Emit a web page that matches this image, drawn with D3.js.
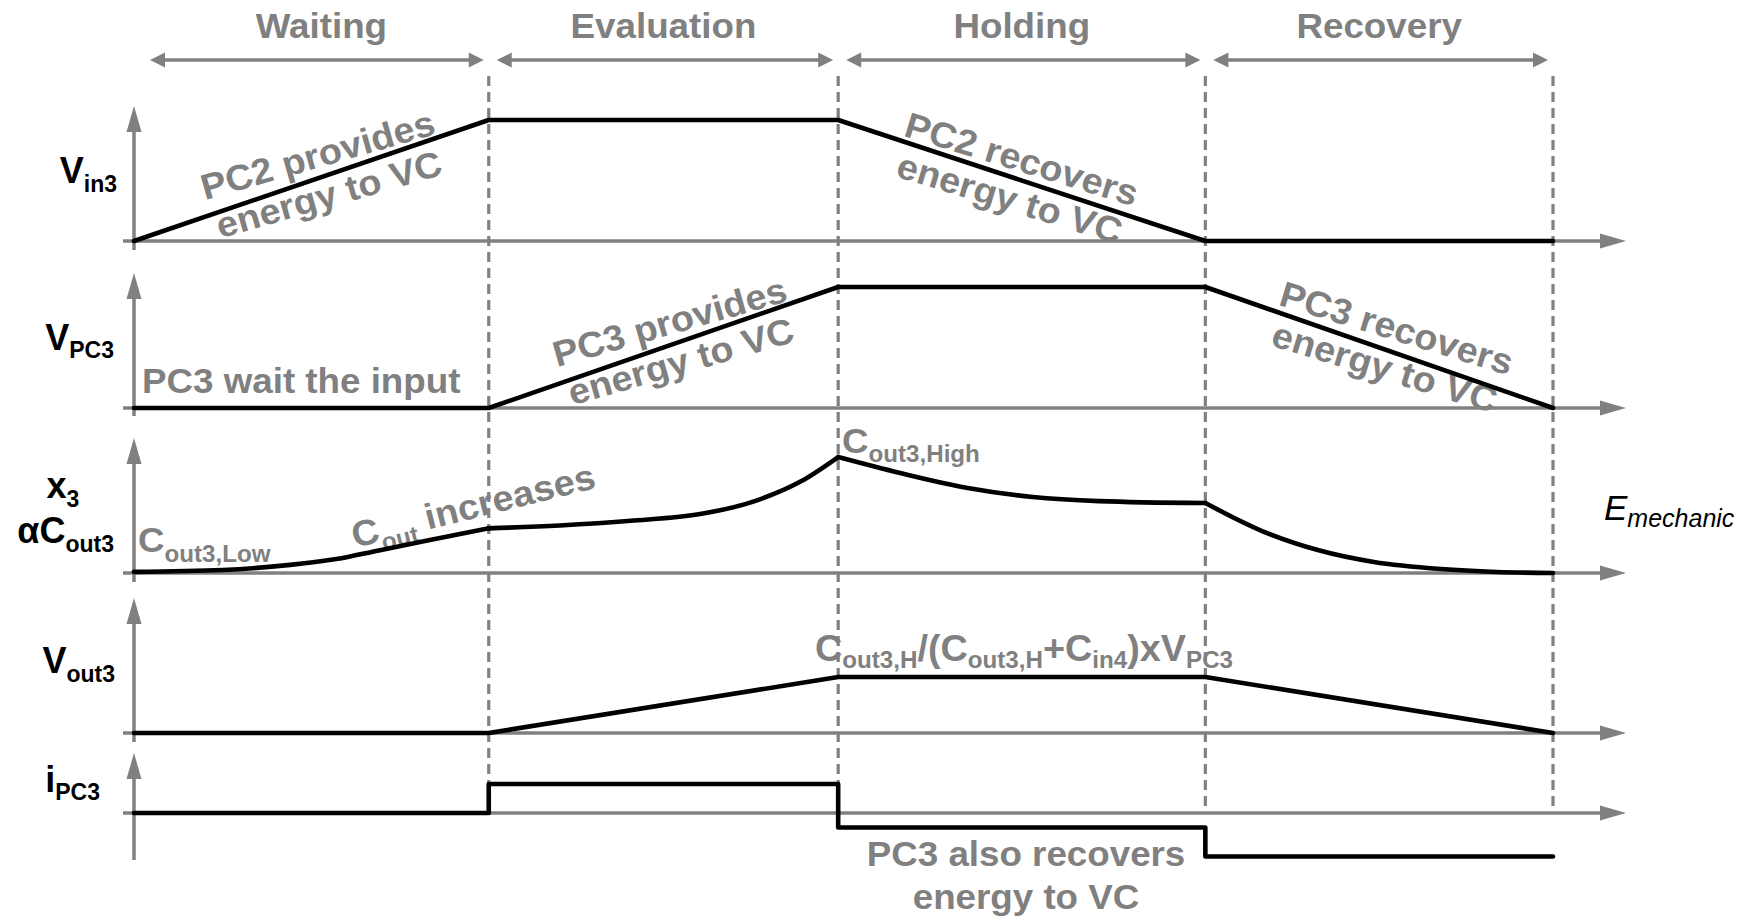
<!DOCTYPE html>
<html>
<head>
<meta charset="utf-8">
<script src="https://cdn.jsdelivr.net/npm/d3@7"></script>
<style>
  html, body { margin: 0; padding: 0; background: #ffffff; }
  svg { display: block; }
  text { font-family: "Liberation Sans", Arial, Helvetica, sans-serif; white-space: pre; }
</style>
</head>
<body>
<svg id="chart" width="1752" height="917"></svg>
<script>
// ---- operating phases (time in normalised units) ----
const phaseNames = ["Waiting", "Evaluation", "Holding", "Recovery"];
const phaseEdges = [0, 1.0, 1.985, 3.02, 4.0];

// ---- waveforms: [time, normalised value] ----
const vin3 = [[0, 0], [1.0, 1], [1.985, 1], [3.02, 0], [4.0, 0]];
const vpc3 = [[0, 0], [1.0, 0], [1.985, 1], [3.02, 1], [4.0, 0]];
const vout3 = [[0, 0], [1.0, 0], [1.985, 1], [3.02, 1], [4.0, 0]];
// i_PC3 holds each level until the next phase edge
const ipc3 = [[0, 0], [1.0, 1], [1.985, -0.5], [3.02, -1.5], [4.0, -1.5]];
// x3 / alpha*Cout3, one smooth piece per phase
const cout3Waiting = [[0, 0.01], [0.25, 0.026], [0.44, 0.07], [0.57, 0.12], [0.69, 0.195], [0.82, 0.275], [1.0, 0.385]];
const cout3Evaluation = [[1.0, 0.385], [1.2, 0.41], [1.4, 0.45], [1.6, 0.51], [1.75, 0.62], [1.88, 0.79], [1.985, 1.0]];
const cout3Holding = [[1.985, 1.0], [2.16, 0.862], [2.35, 0.733], [2.534, 0.655], [2.72, 0.62], [3.02, 0.603]];
const cout3Recovery = [[3.02, 0.603], [3.18, 0.362], [3.337, 0.198], [3.495, 0.095], [3.684, 0.034], [3.842, 0.009], [4.0, 0.0]];

const GRAY = "#808080";
const BLACK = "#000000";
const WIDEN = 1.05;   // annotation lettering is set slightly wide

const svg = d3.select("#chart");
const x = d3.scaleLinear().domain([0, 4]).range([134, 1553]);

// panel layout: baseline, pixels per unit, axis extent
const panels = [
  { name: "vin3",  base: 241, unit: 121, top: 106, bottom: 250, series: [vin3],  curve: d3.curveLinear },
  { name: "vpc3",  base: 408, unit: 121, top: 273, bottom: 416, series: [vpc3],  curve: d3.curveLinear },
  { name: "cout3", base: 573, unit: 116, top: 438, bottom: 582,
    series: [cout3Waiting, cout3Evaluation, cout3Holding, cout3Recovery], curve: d3.curveMonotoneX },
  { name: "vout3", base: 733, unit: 56,  top: 598, bottom: 742, series: [vout3], curve: d3.curveLinear },
  { name: "ipc3",  base: 813, unit: 29,  top: 753, bottom: 860, series: [ipc3],  curve: d3.curveStepAfter }
];
panels.forEach(p => {
  p.y = d3.scaleLinear().domain([0, 1]).range([p.base, p.base - p.unit]);
});

const axisRight = 1626;
const axisLeft = 123;

// a group placed at (px, py), optionally rotated and widened
function place(parent, px, py, angle = 0, sx = 1) {
  return parent.append("g")
    .attr("transform", `translate(${px},${py}) rotate(${angle}) scale(${sx},1)`);
}

// text with subscript runs
function richText(parent, parts, o) {
  const t = parent.append("text")
    .attr("x", o.x || 0).attr("y", o.y || 0)
    .attr("text-anchor", o.anchor || "start")
    .attr("fill", o.fill)
    .attr("font-weight", o.weight || "bold")
    .attr("font-size", o.size);
  if (o.italic) t.attr("font-style", "italic");
  let shift = 0;
  parts.forEach(([s, sub]) => {
    const ts = t.append("tspan").text(s);
    const target = sub ? o.subDy : 0;
    if (target !== shift) ts.attr("dy", target - shift);
    shift = target;
    if (sub) ts.attr("font-size", o.subSize);
  });
  return t;
}

function grayText(parent, str, size, anchor = "start") {
  return parent.append("text")
    .attr("text-anchor", anchor)
    .attr("font-size", size).attr("font-weight", "bold")
    .attr("fill", GRAY)
    .text(str);
}

// ---------- annotation text (beneath the marks) ----------
const notes = svg.append("g").attr("class", "notes");

// phase titles
phaseNames.forEach((name, i) => {
  const cx = (x(phaseEdges[i]) + x(phaseEdges[i + 1])) / 2 + (i === 0 ? 10 : 0);
  grayText(place(notes, cx, 38, 0, WIDEN), name, 35, "middle");
});

// slanted two-line notes along the ramps
const slanted = [
  { lines: ["PC2 provides", "energy to VC"], cx: 321, cy: 167, angle: -16 },
  { lines: ["PC2 recovers", "energy to VC"], cx: 1018, cy: 171, angle: 17 },
  { lines: ["PC3 provides", "energy to VC"], cx: 673, cy: 334, angle: -16 },
  { lines: ["PC3 recovers", "energy to VC"], cx: 1393, cy: 340, angle: 17 }
];
slanted.forEach(s => {
  const g = place(notes, s.cx, s.cy, s.angle, WIDEN);
  s.lines.forEach((line, k) => {
    grayText(g, line, 36, "middle").attr("y", k * 41);
  });
});

grayText(place(notes, 142, 393, 0, WIDEN), "PC3 wait the input", 35);

richText(place(notes, 138, 552, 0, WIDEN), [["C"], ["out3,Low", 1]],
  { size: 35, subSize: 23, subDy: 10, fill: GRAY });

richText(place(notes, 355, 548, -14, WIDEN),
  [["C"], ["out", 1], [" increases"]],
  { size: 36, subSize: 23, subDy: 9, fill: GRAY });

richText(place(notes, 842, 453, 0, WIDEN), [["C"], ["out3,High", 1]],
  { size: 35, subSize: 23, subDy: 9, fill: GRAY });

richText(place(notes, 815, 661, 0, WIDEN),
  [["C"], ["out3,H", 1], ["/(C"], ["out3,H", 1], ["+C"], ["in4", 1], [")xV"], ["PC3", 1]],
  { size: 36, subSize: 23, subDy: 7, fill: GRAY });

["PC3 also recovers", "energy to VC"].forEach((line, k) => {
  grayText(place(notes, 1026, 866 + k * 43, 0, WIDEN), line, 35, "middle");
});

// ---------- signal names ----------
const names = svg.append("g").attr("class", "signal-names");
const nameStyle = { size: 36, subSize: 23, fill: BLACK };
richText(names, [["V"], ["in3", 1]], { ...nameStyle, x: 117, y: 183, anchor: "end", subDy: 9 });
richText(names, [["V"], ["PC3", 1]], { ...nameStyle, x: 114, y: 350, anchor: "end", subDy: 8 });
richText(names, [["x"], ["3", 1]], { ...nameStyle, x: 63, y: 498, anchor: "middle", subDy: 9 });
richText(names, [["αC"], ["out3", 1]], { ...nameStyle, x: 114, y: 543, anchor: "end", subDy: 9 });
richText(names, [["V"], ["out3", 1]], { ...nameStyle, x: 115, y: 673, anchor: "end", subDy: 9 });
richText(names, [["i"], ["PC3", 1]], { ...nameStyle, x: 100, y: 792, anchor: "end", subDy: 8 });

richText(names, [["E"], ["mechanic", 1]],
  { x: 1604, y: 520, size: 35, subSize: 25, subDy: 7, fill: BLACK, weight: "normal", italic: true });

// ---------- axes ----------
const axes = svg.append("g").attr("class", "axes");
const headLen = 26, headHalf = 7.5;
panels.forEach(p => {
  const x0 = x(0);
  // horizontal time axis
  axes.append("line")
    .attr("x1", axisLeft).attr("x2", axisRight - headLen + 4)
    .attr("y1", p.base).attr("y2", p.base)
    .attr("stroke", GRAY).attr("stroke-width", 3.5);
  axes.append("path")
    .attr("d", `M${axisRight},${p.base} L${axisRight - headLen},${p.base - headHalf} L${axisRight - headLen},${p.base + headHalf} Z`)
    .attr("fill", GRAY);
  // vertical value axis
  axes.append("line")
    .attr("x1", x0).attr("x2", x0)
    .attr("y1", p.bottom).attr("y2", p.top + headLen - 4)
    .attr("stroke", GRAY).attr("stroke-width", 3.5);
  axes.append("path")
    .attr("d", `M${x0},${p.top} L${x0 - headHalf},${p.top + headLen} L${x0 + headHalf},${p.top + headLen} Z`)
    .attr("fill", GRAY);
});

// phase span arrows
const spanY = 60, tipLen = 15, tipHalf = 7.5;
phaseNames.forEach((name, i) => {
  const a = x(phaseEdges[i]) + (i === 0 ? 16 : 8);
  const b = x(phaseEdges[i + 1]) - 5;
  axes.append("line")
    .attr("x1", a + tipLen - 2).attr("x2", b - tipLen + 2)
    .attr("y1", spanY).attr("y2", spanY)
    .attr("stroke", GRAY).attr("stroke-width", 3.5);
  axes.append("path")
    .attr("d", `M${a},${spanY} L${a + tipLen},${spanY - tipHalf} L${a + tipLen},${spanY + tipHalf} Z`)
    .attr("fill", GRAY);
  axes.append("path")
    .attr("d", `M${b},${spanY} L${b - tipLen},${spanY - tipHalf} L${b - tipLen},${spanY + tipHalf} Z`)
    .attr("fill", GRAY);
});

// phase boundaries
axes.selectAll("line.boundary")
  .data(phaseEdges.slice(1))
  .join("line")
  .attr("class", "boundary")
  .attr("x1", d => x(d)).attr("x2", d => x(d))
  .attr("y1", 76).attr("y2", 813)
  .attr("stroke", GRAY).attr("stroke-width", 3.2)
  .attr("stroke-dasharray", "10,6");

// ---------- waveforms ----------
const marks = svg.append("g").attr("class", "waveforms");
panels.forEach(p => {
  const line = d3.line()
    .x(d => x(d[0]))
    .y(d => p.y(d[1]))
    .curve(p.curve);
  p.series.forEach(s => {
    marks.append("path")
      .attr("d", line(s))
      .attr("fill", "none")
      .attr("stroke", BLACK)
      .attr("stroke-width", 4.6)
      .attr("stroke-linecap", "round")
      .attr("stroke-linejoin", "round");
  });
});
</script>
</body>
</html>
